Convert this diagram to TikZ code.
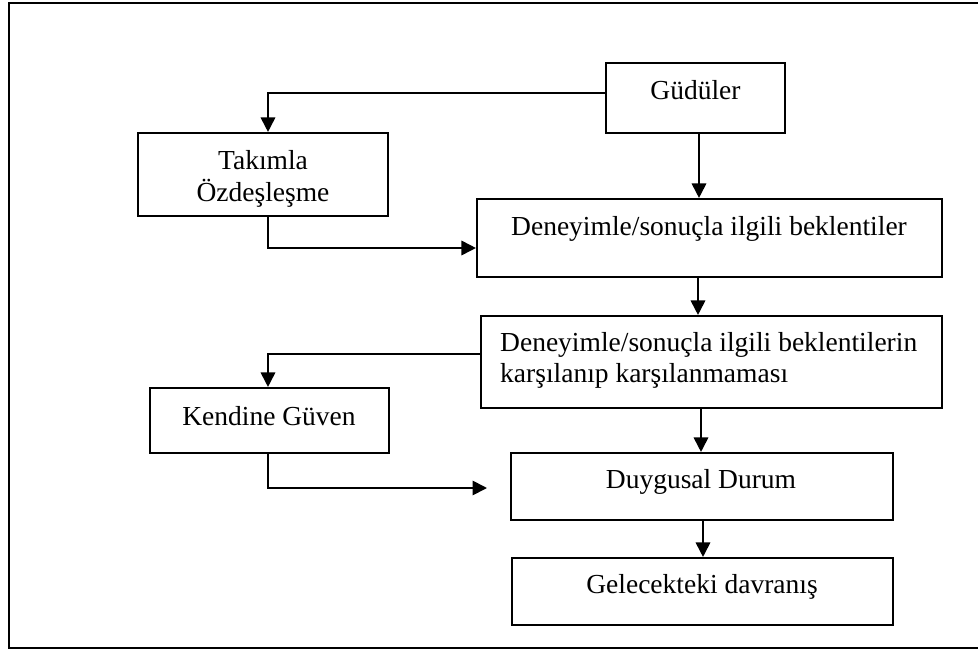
\documentclass[tikz,border=0pt]{standalone}
\usepackage{fontspec}
\setmainfont{Liberation Serif}
\usetikzlibrary{arrows.meta}
\begin{document}
\begin{tikzpicture}[x=1pt,y=-1pt,
  box/.style={draw, line width=2.1pt, inner sep=0pt},
  lbl/.style={inner sep=0pt, font=\fontsize{27.5}{32}\selectfont},
  link/.style={line width=1.8pt, -{Triangle[width=14.5pt,length=14.5pt]}}]
\useasboundingbox (0,0) rectangle (978,651);
% outer frame (open to the right)
\draw[line width=2.4pt] (978,3) -- (9,3) -- (9,648) -- (978,648);

% boxes
\node[box, minimum width=179pt, minimum height=70pt] (gud)   at (695.5,98)  {};
\node[box, minimum width=250pt, minimum height=83pt] (tak)   at (263,174.5) {};
\node[box, minimum width=465pt, minimum height=78pt] (dbek)  at (709.5,238) {};
\node[box, minimum width=461pt, minimum height=92pt] (karsi) at (711.5,362) {};
\node[box, minimum width=239pt, minimum height=65pt] (kend)  at (269.5,420.5) {};
\node[box, minimum width=382pt, minimum height=67pt] (duy)   at (702,486.5) {};
\node[box, minimum width=381pt, minimum height=67pt] (gel)   at (702.5,591.5) {};

% texts
\node[lbl, anchor=base] (gud-t)  at (695.5,99) {Güdüler};
\node[lbl, anchor=base] (tak-t1) at (263,169) {Takımla};
\node[lbl, anchor=base] (tak-t2) at (263,201) {Özdeşleşme};
\node[lbl, anchor=base] (dbek-t) at (709,235) {Deneyimle/sonuçla ilgili beklentiler};
\node[lbl, anchor=base west] (karsi-t1) at (500,351) {Deneyimle/sonuçla ilgili beklentilerin};
\node[lbl, anchor=base west] (karsi-t2) at (500,382) {karşılanıp karşılanmaması};
\node[lbl, anchor=base] (kend-t) at (269,425) {Kendine Güven};
\node[lbl, anchor=base] (duy-t)  at (701,488) {Duygusal Durum};
\node[lbl, anchor=base] (gel-t)  at (702,593) {Gelecekteki davranış};

% connectors
\draw[link] (gud.west |- 0,93) -| (268,0 |- tak.north);
\draw[link] (699,0 |- gud.south) -- (699,0 |- dbek.north);
\draw[link] (268,0 |- tak.south) |- (dbek.west |- 0,248);
\draw[link] (698,0 |- dbek.south) -- (698,0 |- karsi.north);
\draw[link] (karsi.west |- 0,354) -| (268,0 |- kend.north);
\draw[link] (701,0 |- karsi.south) -- (701,0 |- duy.north);
\coordinate (kend-end) at (487,488);
\draw[link] (268,0 |- kend.south) |- (kend-end);
\draw[link] (703,0 |- duy.south) -- (703,0 |- gel.north);
\end{tikzpicture}
\end{document}
